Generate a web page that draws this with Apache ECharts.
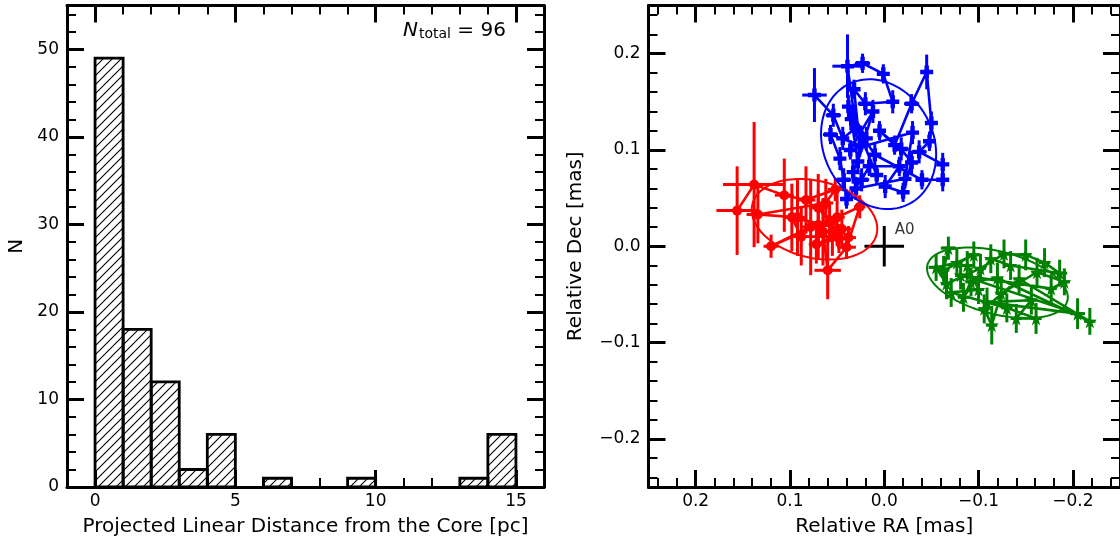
<!DOCTYPE html>
<html>
<head>
<meta charset="utf-8">
<script src="https://cdn.jsdelivr.net/npm/echarts@6/dist/echarts.min.js"></script>
<style>
html,body{margin:0;padding:0;background:#fff;}
#c{width:1120px;height:542px;}
</style>
</head>
<body>
<div id="c"></div>
<script>
// ---------------- DATA ----------------
// Histogram (left panel)
const binEdges = [0,1,2,3,4,5,6,7,8,9,10,11,12,13,14,15];
const binCounts = [49,18,12,2,6,0,1,0,0,1,0,0,0,1,6];
const nTotal = 96;
const histXTicks = [0,5,10,15];
const histYTicks = [0,10,20,30,40,50];

// Right panel: [RA, Dec, RAerr, DecErr] in observation order
const bluePoints = [
  [0.074,0.157,0.013,0.028],[0.054,0.136,0.008,0.012],[0.044,0.112,0.006,0.012],[0.030,0.123,0.006,0.010],
  [0.039,0.187,0.016,0.033],[0.023,0.190,0.008,0.010],[0.001,0.179,0.006,0.010],[-0.009,0.150,0.006,0.012],
  [0.020,0.148,0.008,0.012],[0.032,0.163,0.006,0.010],[0.026,0.105,0.006,0.012],[0.057,0.116,0.008,0.010],
  [0.047,0.091,0.006,0.012],[0.043,0.069,0.008,0.012],[0.040,0.049,0.006,0.010],[0.024,0.069,0.008,0.012],
  [0.016,0.083,0.006,0.010],[-0.016,0.083,0.006,0.010],[-0.001,0.062,0.006,0.012],[-0.020,0.056,0.006,0.010],
  [-0.029,0.087,0.006,0.012],[-0.018,0.101,0.008,0.012],[0.005,0.120,0.006,0.010],[-0.011,0.105,0.006,0.010],
  [-0.029,0.148,0.008,0.010],[-0.045,0.181,0.006,0.018],[-0.050,0.128,0.006,0.012],[-0.048,0.109,0.006,0.010],
  [-0.037,0.098,0.008,0.012],[-0.062,0.085,0.006,0.012],[-0.062,0.069,0.006,0.012],[-0.040,0.069,0.006,0.010],
  [0.010,0.095,0.006,0.012],[0.035,0.132,0.006,0.012],[0.028,0.088,0.006,0.010],[0.012,0.140,0.006,0.012],
  [0.036,0.100,0.006,0.010],[-0.030,0.118,0.006,0.012],[-0.022,0.070,0.006,0.010],[0.030,0.060,0.006,0.012],
  [0.033,0.077,0.006,0.012],[0.019,0.112,0.006,0.012],[0.038,0.145,0.006,0.012],[0.008,0.074,0.006,0.010]
];
const redPoints = [
  [0.156,0.037,0.022,0.046],[0.138,0.064,0.033,0.065],[0.106,0.053,0.010,0.038],[0.083,0.048,0.010,0.035],
  [0.052,0.059,0.008,0.012],[0.062,0.045,0.008,0.025],[0.134,0.033,0.012,0.030],[0.092,0.030,0.008,0.040],
  [0.070,0.022,0.010,0.035],[0.120,0.000,0.008,0.012],[0.078,0.020,0.010,0.050],[0.050,0.030,0.008,0.030],
  [0.026,0.041,0.006,0.012],[0.040,-0.001,0.010,0.012],[0.060,-0.025,0.014,0.030],[0.065,0.015,0.008,0.035],
  [0.045,0.018,0.010,0.020],[0.098,0.030,0.008,0.035],[0.088,0.010,0.008,0.030],[0.055,0.010,0.008,0.020],
  [0.072,0.002,0.008,0.020],[0.048,0.008,0.006,0.015],[0.058,0.025,0.008,0.020],[0.070,0.040,0.010,0.035],
  [0.038,0.009,0.008,0.012]
];
const greenPoints = [
  [-0.068,-0.002,0.008,0.012],[-0.063,-0.025,0.006,0.015],[-0.095,-0.009,0.006,0.014],[-0.077,-0.017,0.006,0.015],
  [-0.055,-0.022,0.008,0.014],[-0.066,-0.039,0.006,0.016],[-0.102,-0.023,0.006,0.015],[-0.127,-0.008,0.006,0.015],
  [-0.150,-0.009,0.006,0.016],[-0.170,-0.017,0.006,0.015],[-0.186,-0.028,0.008,0.014],[-0.134,-0.020,0.006,0.015],
  [-0.113,-0.013,0.006,0.015],[-0.084,-0.053,0.006,0.015],[-0.092,-0.037,0.006,0.015],[-0.120,-0.033,0.006,0.016],
  [-0.218,-0.078,0.006,0.014],[-0.143,-0.034,0.006,0.015],[-0.106,-0.065,0.006,0.015],[-0.114,-0.082,0.006,0.020],
  [-0.124,-0.049,0.006,0.015],[-0.162,-0.027,0.006,0.015],[-0.191,-0.037,0.006,0.014],[-0.177,-0.044,0.006,0.015],
  [-0.081,-0.030,0.006,0.015],[-0.205,-0.070,0.008,0.016],[-0.109,-0.058,0.006,0.015],[-0.156,-0.056,0.006,0.015],
  [-0.140,-0.075,0.006,0.015],[-0.161,-0.075,0.006,0.016],[-0.130,-0.064,0.006,0.015],[-0.071,-0.048,0.006,0.015],
  [-0.100,-0.045,0.006,0.015],[-0.088,-0.020,0.006,0.015]
];
// Fitted ellipses: [centre RA, centre Dec, semi-major, semi-minor, angle deg]
const blueEllipse = [0.006, 0.106, 0.070, 0.058, 61];
const redEllipse = [0.074, 0.028, 0.0677, 0.040, 13];
const greenEllipse = [-0.120, -0.038, 0.0765, 0.0326, 14];
// Reference position A0: [RA, Dec, RAerr, DecErr]
const refPoint = [0, 0, 0.021, 0.021];
const refLabel = 'A0';
const posTicks = [-0.2,-0.1,0,0.1,0.2];

// --------------- helpers ---------------
function range(a, b, step) { const out = []; for (let v = a; v <= b + 1e-9; v += step) out.push(Math.round(v * 1000) / 1000); return out; }
const histXMinor = range(0, 16, 1);
const histYMinor = range(0, 54, 2);
const posMinor = range(-0.24, 0.24, 0.02);

const FONT = 'DejaVu Sans';
const TICK_FS = 17, NAME_FS = 20;

function majorAxis(o) {
  return {
    type: 'value', gridIndex: o.grid, position: o.pos, min: o.min, max: o.max, inverse: !!o.inverse,
    splitLine: { show: false },
    axisLine: { show: true, onZero: false, lineStyle: { color: '#000', width: 3 } },
    axisTick: { show: true, inside: true, length: 17, customValues: o.ticks, lineStyle: { color: '#000', width: 3 } },
    axisLabel: { show: !!o.label, customValues: o.ticks, formatter: o.fmt, color: '#000', fontFamily: FONT, fontSize: TICK_FS, margin: o.margin || 6 },
    name: o.name || '', nameLocation: 'middle', nameGap: o.nameGap || 0,
    nameTextStyle: { color: '#000', fontFamily: FONT, fontSize: NAME_FS }
  };
}
function minorAxis(o) {
  return {
    type: 'value', gridIndex: o.grid, position: o.pos, min: o.min, max: o.max, inverse: !!o.inverse,
    splitLine: { show: false },
    axisLine: { show: false, onZero: false },
    axisTick: { show: true, inside: true, length: 9, customValues: o.ticks, lineStyle: { color: '#000', width: 2 } },
    axisLabel: { show: false }
  };
}
const fmtInt = v => String(Math.round(v));
const fmtPos = v => (Math.abs(v) < 1e-9 ? 0 : v).toFixed(1).replace('-', '\u2212');

const L = { minX: -1, maxX: 16, minY: 0, maxY: 55 };
const R = { min: -0.25, max: 0.25 };

const xAxis = [
  majorAxis({ grid: 0, pos: 'bottom', min: L.minX, max: L.maxX, ticks: histXTicks, label: true, fmt: fmtInt, name: 'Projected Linear Distance from the Core [pc]', nameGap: 30, margin: 6 }),
  minorAxis({ grid: 0, pos: 'bottom', min: L.minX, max: L.maxX, ticks: histXMinor }),
  majorAxis({ grid: 0, pos: 'top', min: L.minX, max: L.maxX, ticks: histXTicks }),
  minorAxis({ grid: 0, pos: 'top', min: L.minX, max: L.maxX, ticks: histXMinor }),
  majorAxis({ grid: 1, pos: 'bottom', min: R.min, max: R.max, inverse: true, ticks: posTicks, label: true, fmt: fmtPos, name: 'Relative RA [mas]', nameGap: 30, margin: 6 }),
  minorAxis({ grid: 1, pos: 'bottom', min: R.min, max: R.max, inverse: true, ticks: posMinor }),
  majorAxis({ grid: 1, pos: 'top', min: R.min, max: R.max, inverse: true, ticks: posTicks }),
  minorAxis({ grid: 1, pos: 'top', min: R.min, max: R.max, inverse: true, ticks: posMinor })
];
const yAxis = [
  majorAxis({ grid: 0, pos: 'left', min: L.minY, max: L.maxY, ticks: histYTicks, label: true, fmt: fmtInt, name: 'N', nameGap: 40, margin: 8 }),
  minorAxis({ grid: 0, pos: 'left', min: L.minY, max: L.maxY, ticks: histYMinor }),
  majorAxis({ grid: 0, pos: 'right', min: L.minY, max: L.maxY, ticks: histYTicks }),
  minorAxis({ grid: 0, pos: 'right', min: L.minY, max: L.maxY, ticks: histYMinor }),
  majorAxis({ grid: 1, pos: 'left', min: R.min, max: R.max, ticks: posTicks, label: true, fmt: fmtPos, name: 'Relative Dec [mas]', nameGap: 63, margin: 8 }),
  minorAxis({ grid: 1, pos: 'left', min: R.min, max: R.max, ticks: posMinor }),
  majorAxis({ grid: 1, pos: 'right', min: R.min, max: R.max, ticks: posTicks }),
  minorAxis({ grid: 1, pos: 'right', min: R.min, max: R.max, ticks: posMinor })
];

// hatch pattern
const hatch = document.createElement('canvas');
hatch.width = 9; hatch.height = 9;
(function () {
  const g = hatch.getContext('2d');
  g.strokeStyle = '#000'; g.lineWidth = 1.1; g.lineCap = 'square';
  g.beginPath();
  g.moveTo(0, 9); g.lineTo(9, 0);
  g.moveTo(-2, 2); g.lineTo(2, -2);
  g.moveTo(7, 11); g.lineTo(11, 7);
  g.stroke();
})();
const hatchFill = { image: hatch, repeat: 'repeat' };

const histData = binCounts.map((c, i) => [binEdges[i], binEdges[i + 1], c]);

function errSeries(points, color, width) {
  return {
    type: 'custom', xAxisIndex: 4, yAxisIndex: 4, data: points, silent: true, z: 3,
    renderItem: function (params, api) {
      const x = api.value(0), y = api.value(1), xe = api.value(2), ye = api.value(3);
      const a = api.coord([x - xe, y]), b = api.coord([x + xe, y]);
      const c = api.coord([x, y - ye]), d = api.coord([x, y + ye]);
      const st = { stroke: color, lineWidth: width };
      return { type: 'group', children: [
        { type: 'line', shape: { x1: a[0], y1: a[1], x2: b[0], y2: b[1] }, style: st },
        { type: 'line', shape: { x1: c[0], y1: c[1], x2: d[0], y2: d[1] }, style: st }
      ] };
    }
  };
}
function pathSeries(points, color) {
  return { type: 'line', xAxisIndex: 4, yAxisIndex: 4, data: points.map(p => [p[0], p[1]]), symbol: 'none',
    lineStyle: { color: color, width: 2.6 }, silent: true, z: 2 };
}
function markerSeries(points, color, symbol, size) {
  return { type: 'scatter', xAxisIndex: 4, yAxisIndex: 4, data: points.map(p => [p[0], p[1]]), symbol: symbol,
    symbolSize: size, itemStyle: { color: color, opacity: 1 }, silent: true, z: 4 };
}
function ellipseSeries(par, color) {
  return {
    type: 'custom', xAxisIndex: 4, yAxisIndex: 4, data: [par], silent: true, z: 5,
    renderItem: function (params, api) {
      const cx = api.value(0), cy = api.value(1), a = api.value(2), b = api.value(3), ph = api.value(4) * Math.PI / 180;
      const pts = [];
      for (let k = 0; k <= 120; k++) {
        const t = k / 120 * Math.PI * 2;
        const ra = cx + a * Math.cos(t) * Math.cos(ph) - b * Math.sin(t) * Math.sin(ph);
        const de = cy + a * Math.cos(t) * Math.sin(ph) + b * Math.sin(t) * Math.cos(ph);
        pts.push(api.coord([ra, de]));
      }
      return { type: 'polyline', shape: { points: pts }, style: { stroke: color, lineWidth: 2, fill: 'none' } };
    }
  };
}

const PLUS = 'path://M3.3,0H6.7V3.3H10V6.7H6.7V10H3.3V6.7H0V3.3H3.3Z';
const STAR = 'path://M50,0L61,35L98,35L68,57L79,91L50,70L21,91L32,57L2,35L39,35Z';
const BLUE = '#0000ff', RED = '#ff0000', GREEN = '#008000';

const option = {
  animation: false,
  backgroundColor: '#fff',
  grid: [
    { left: 67, top: 5.5, width: 477, height: 482, containLabel: false },
    { left: 648.5, top: 5.5, width: 476, height: 482, containLabel: false }
  ],
  xAxis: xAxis,
  yAxis: yAxis,
  graphic: [{
    type: 'text', left: 403, top: 21, z: 100,
    style: {
      text: '{n|N}{s|total}{t| = ' + nTotal + '}',
      rich: {
        n: { fontFamily: FONT, fontSize: 20, fontStyle: 'italic', fill: '#000', lineHeight: 23, verticalAlign: 'bottom' },
        s: { fontFamily: FONT, fontSize: 14, fill: '#000', lineHeight: 16, verticalAlign: 'bottom', padding: [0, 0, 0, 1] },
        t: { fontFamily: FONT, fontSize: 20, fill: '#000', lineHeight: 23, verticalAlign: 'bottom' }
      }
    }
  }],
  series: [
    {
      type: 'custom', xAxisIndex: 0, yAxisIndex: 0, data: histData, silent: true, z: 2,
      renderItem: function (params, api) {
        const c = api.value(2);
        if (!c) return null;
        const p0 = api.coord([api.value(0), c]);
        const p1 = api.coord([api.value(1), 0]);
        return { type: 'rect', shape: { x: p0[0], y: p0[1], width: p1[0] - p0[0], height: p1[1] - p0[1] },
          style: { fill: hatchFill, stroke: '#000', lineWidth: 2.8 } };
      }
    },
    pathSeries(redPoints, RED), errSeries(redPoints, RED, 3), markerSeries(redPoints, RED, 'circle', 10),
    pathSeries(bluePoints, BLUE), errSeries(bluePoints, BLUE, 3), markerSeries(bluePoints, BLUE, PLUS, 13),
    pathSeries(greenPoints, GREEN), errSeries(greenPoints, GREEN, 3), markerSeries(greenPoints, GREEN, STAR, 14),
    ellipseSeries(redEllipse, RED), ellipseSeries(blueEllipse, BLUE), ellipseSeries(greenEllipse, GREEN),
    errSeries([refPoint], '#000', 3),
    {
      type: 'scatter', xAxisIndex: 4, yAxisIndex: 4, data: [[refPoint[0], refPoint[1]]], symbolSize: 1,
      itemStyle: { color: 'rgba(0,0,0,0)' }, silent: true, z: 6,
      label: { show: true, formatter: refLabel, position: [11, -23], color: '#000', fontFamily: FONT, fontSize: 15 }
    }
  ]
};

const chart = echarts.init(document.getElementById('c'), null, { renderer: 'canvas' });
chart.setOption(option);
</script>
</body>
</html>
